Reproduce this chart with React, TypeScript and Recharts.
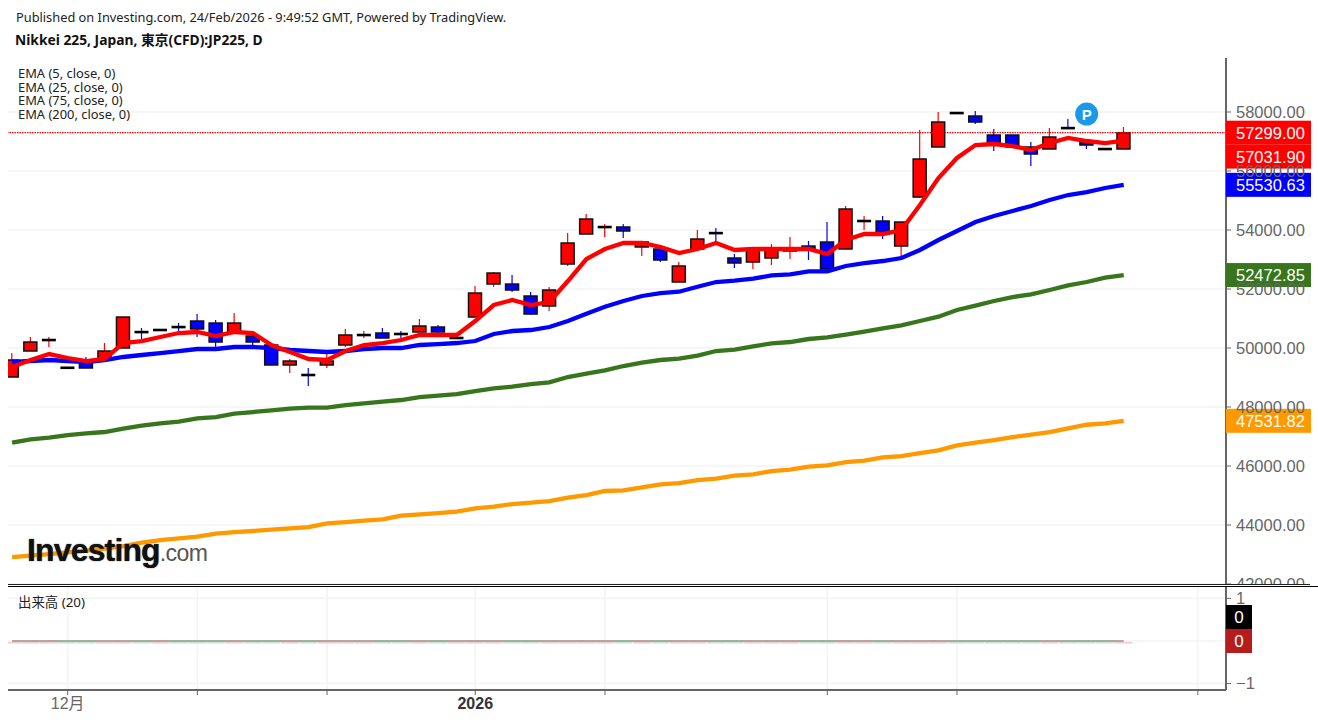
import {
  Bar,
  CartesianGrid,
  ComposedChart,
  Line,
  ReferenceDot,
  ReferenceLine,
  XAxis,
  YAxis,
} from 'recharts'

const opens = [
  49017, 49898, 50260, 49340, 49525, 49593, 50000, 50550, 50600, 50720, 50915, 50847, 50508, 50407, 50102, 49424,
  49095, 49424, 50102, 50430, 50508, 50485, 50542, 50712, 50330, 51050, 52169, 52169, 51763, 51424, 52847, 53864,
  54090, 54102, 53424, 53356, 52237, 53356, 53905, 53051, 52915, 53051, 53288, 53457, 53593, 53356, 54295, 54305,
  53457, 55118, 56814, 57975, 57864, 57220, 57220, 56814, 56746, 57465, 57017, 56755, 56746,
]
const highs = [
  49830, 50373, 50373, 49350, 49695, 50169, 51050, 50678, 50620, 50847, 51152, 50949, 51186, 50508, 50102, 49627,
  49322, 49796, 50644, 50576, 50678, 50576, 50983, 50780, 50508, 52102, 52576, 52475, 51898, 52068, 53898, 54542,
  54203, 54203, 53593, 53457, 52915, 54000, 54068, 53186, 53356, 53525, 53763, 53627, 54271, 54813, 54474, 54474,
  54271, 57390, 58000, 57975, 58034, 57424, 57220, 56983, 57458, 57763, 57017, 56755, 57492,
]
const lows = [
  49017, 49898, 50034, 49320, 49322, 49593, 50000, 50305, 50600, 50508, 50373, 50000, 50508, 50102, 49424, 49152,
  48711, 49322, 50034, 50339, 50339, 50339, 50542, 50441, 50305, 51050, 52068, 51898, 51118, 51254, 52780, 53864,
  53763, 53729, 53118, 52915, 52237, 53356, 53627, 52712, 52678, 52813, 53017, 52983, 52678, 53356, 54000, 53695,
  53051, 55085, 56814, 57955, 57593, 56678, 56814, 56169, 56746, 57424, 56746, 56735, 56746,
]
const closes = [
  49593, 50203, 50280, 49330, 49322, 49898, 51050, 50530, 50620, 50700, 50644, 50203, 50847, 50203, 49424, 49559,
  49075, 49559, 50441, 50450, 50339, 50465, 50746, 50542, 50350, 51864, 52542, 51966, 51152, 51966, 53559, 54373,
  54110, 53966, 53593, 52983, 52780, 53695, 53890, 52881, 53356, 53390, 53390, 53356, 52678, 54712, 54315, 53864,
  54271, 56407, 57661, 57955, 57661, 56949, 56814, 56576, 57153, 57450, 56881, 56735, 57299,
]
const ema5 = [
  49356, 49593, 49796, 49661, 49559, 49627, 50169, 50237, 50373, 50508, 50542, 50407, 50542, 50508, 50102, 49864,
  49627, 49593, 49898, 50102, 50169, 50271, 50441, 50441, 50441, 50915, 51457, 51627, 51457, 51559, 52271, 53017,
  53356, 53559, 53559, 53424, 53220, 53356, 53559, 53322, 53356, 53356, 53356, 53356, 53186, 53661, 53864, 53864,
  54000, 54847, 55763, 56441, 56881, 56915, 56847, 56712, 56949, 57119, 57017, 56949, 57032,
]
const ema25 = [
  49525, 49559, 49593, 49559, 49525, 49593, 49695, 49763, 49830, 49898, 49966, 49966, 50034, 50034, 50000, 49932,
  49898, 49864, 49898, 49966, 50000, 50000, 50102, 50135, 50169, 50237, 50475, 50576, 50610, 50712, 50915, 51162,
  51400, 51593, 51763, 51864, 51908, 52078, 52237, 52281, 52349, 52464, 52498, 52600, 52600, 52780, 52881, 52949,
  53051, 53322, 53661, 53966, 54271, 54474, 54644, 54813, 55017, 55186, 55288, 55424, 55531,
]
const ema75 = [
  46789, 46905, 46959, 47050, 47108, 47152, 47264, 47366, 47447, 47501, 47616, 47660, 47772, 47830, 47888, 47942,
  47976, 47976, 48067, 48125, 48179, 48237, 48338, 48383, 48440, 48542, 48633, 48688, 48779, 48837, 49016, 49128,
  49244, 49389, 49501, 49593, 49637, 49739, 49898, 49942, 50057, 50159, 50203, 50305, 50362, 50450, 50552, 50667,
  50769, 50915, 51061, 51288, 51434, 51593, 51728, 51820, 51966, 52125, 52237, 52383, 52473,
]
const ema200 = [
  42914, 42959, 43016, 43074, 43128, 43196, 43287, 43399, 43491, 43548, 43603, 43704, 43762, 43796, 43840, 43887,
  43931, 44057, 44101, 44145, 44193, 44315, 44362, 44406, 44450, 44565, 44620, 44711, 44755, 44813, 44925, 45016,
  45152, 45176, 45277, 45379, 45423, 45525, 45569, 45671, 45718, 45830, 45874, 45976, 46023, 46135, 46179, 46294,
  46338, 46440, 46532, 46701, 46789, 46881, 46982, 47060, 47152, 47277, 47399, 47447, 47532,
]
const volumes = [
  0, 0, 0, 0, 0, 0, 0, 0, 0, 0, 0, 0, 0, 0, 0, 0, 0, 0, 0, 0, 0, 0, 0, 0, 0, 0, 0, 0, 0, 0, 0, 0, 0, 0, 0, 0, 0, 0,
  0, 0, 0, 0, 0, 0, 0, 0, 0, 0, 0, 0, 0, 0, 0, 0, 0, 0, 0, 0, 0, 0, 0,
]
const priceTicks = [42000, 44000, 46000, 48000, 50000, 52000, 54000, 56000, 58000]
const volumeTicks = [-1, 0, 1]
const timeTicks = [3, 10, 17, 25, 32, 44, 51, 64]
const timeLabels = ['12月', '', '', '2026', '', '', '', '']
const emaNames = ['EMA (5, close, 0)', 'EMA (25, close, 0)', 'EMA (75, close, 0)', 'EMA (200, close, 0)']

const candles = opens.map((open, i) => ({
  idx: i,
  open,
  close: closes[i],
  range: [lows[i], highs[i]],
  ema5: ema5[i],
  ema25: ema25[i],
  ema75: ema75[i],
  ema200: ema200[i],
  volume: volumes[i],
  volumeMa: volumes[i],
}))

const X_DOMAIN: [number, number] = [-0.22, 65.52]
const GRID = '#f3f3f3'
const AXIS = '#666666'
const SANS = '"Liberation Sans", "Noto Sans CJK JP", sans-serif'
const LABEL_FONT = '"Noto Sans", "Noto Sans CJK JP", sans-serif'

function CandleShape(props: any) {
  const { x, y, width, height, payload } = props
  const [low, high] = payload.range
  const pxPerUnit = height / (high - low)
  const top = y + (high - Math.max(payload.open, payload.close)) * pxPerUnit
  const bottom = y + (high - Math.min(payload.open, payload.close)) * pxPerUnit
  const up = payload.close >= payload.open
  const doji = Math.abs(payload.open - payload.close) < 30
  const color = up ? '#ff0000' : '#0000ff'
  const cx = x + width / 2
  return (
    <g>
      <line x1={cx} x2={cx} y1={y} y2={y + height} stroke={color} strokeWidth={1.2} />
      {doji ? (
        <rect x={x} y={top - 1} width={width} height={2.6} fill="#000000" />
      ) : (
        <rect
          x={x + 0.5}
          y={top}
          width={width - 1}
          height={bottom - top}
          fill={color}
          stroke="#111111"
          strokeWidth={1.5}
        />
      )}
    </g>
  )
}

// volume is flat at zero, so the bar is a faint strip just under the zero line
function VolumeShape(props: any) {
  const { x, y, width, payload } = props
  return <rect x={x} y={y + 1} width={width} height={1.5} fill={payload.close >= payload.open ? '#f8c9c9' : '#c5e6c5'} />
}

// value tag sitting on the price axis, dy moves it off a neighbouring tag
const priceTag = (value: number, color: string, dy = 0) => (props: any) => {
  const { cx, cy } = props
  return (
    <g>
      <rect x={cx} y={cy + dy - 12} width={85} height={24} fill={color} />
      <text x={cx + 10} y={cy + dy + 6} fill="#ffffff" fontSize={16.5} fontFamily={SANS}>
        {value.toFixed(2)}
      </text>
    </g>
  )
}

const volumeTag = (color: string, dy = 0) => (props: any) => {
  const { cx, cy } = props
  return (
    <g>
      <rect x={cx} y={cy + dy - 12} width={26} height={24} fill={color} />
      <text x={cx + 13} y={cy + dy + 6} fill="#ffffff" fontSize={17} textAnchor="middle" fontFamily={SANS}>
        0
      </text>
    </g>
  )
}

const publishedMark = (props: any) => (
  <g>
    <circle cx={props.cx} cy={props.cy} r={11.5} fill="#1b98e8" />
    <text x={props.cx} y={props.cy + 5.5} fill="#ffffff" fontSize={15} fontWeight={700} textAnchor="middle" fontFamily={SANS}>
      P
    </text>
  </g>
)

function TimeTick(props: any) {
  const { x, y, index } = props
  const label = timeLabels[index]
  const bold = label === '2026'
  return (
    <text
      x={x}
      y={y + 12}
      textAnchor="middle"
      fontSize={16}
      fontWeight={bold ? 700 : 400}
      fill={bold ? '#333333' : AXIS}
      fontFamily={SANS}
    >
      {label}
    </text>
  )
}

const formatPrice = (v: number) => v.toFixed(2)
// the zero tick is covered by the value tags
const formatVolume = (v: number) => (v === 0 ? '' : v < 0 ? `−${-v}` : `${v}`)

export default function App() {
  return (
    <div style={{ position: 'absolute', left: 0, top: 0, width: 1318, height: 723, background: '#ffffff', overflow: 'hidden' }}>
      <div style={{ position: 'absolute', left: 0, top: 0 }}>
        <ComposedChart
          width={1318}
          height={590}
          data={candles}
          margin={{ top: 58, right: 0, bottom: 5, left: 8 }}
        >
          <CartesianGrid stroke={GRID} strokeWidth={1.5} syncWithTicks />
          <XAxis
            dataKey="idx"
            type="number"
            domain={X_DOMAIN}
            allowDataOverflow
            ticks={timeTicks}
            interval={0}
            height={0}
            tick={false}
            axisLine={false}
            tickLine={false}
          />
          <YAxis
            orientation="right"
            width={92}
            domain={[41966, 59831]}
            allowDataOverflow
            ticks={priceTicks}
            interval={0}
            tickFormatter={formatPrice}
            tick={{ fill: AXIS, fontSize: 16.5, fontFamily: SANS }}
            tickSize={5}
            tickMargin={5}
            axisLine={{ stroke: AXIS, strokeWidth: 2 }}
            tickLine={{ stroke: AXIS }}
          />
          <ReferenceLine y={closes[closes.length - 1]} stroke="#ff0000" strokeWidth={1.2} strokeDasharray="1.5 1" />
          <Line dataKey="ema200" stroke="#ff9900" strokeWidth={4.3} dot={false} isAnimationActive={false} />
          <Line dataKey="ema75" stroke="#38761d" strokeWidth={4.3} dot={false} isAnimationActive={false} />
          <Line dataKey="ema25" stroke="#0000ff" strokeWidth={4.3} dot={false} isAnimationActive={false} />
          <Line dataKey="ema5" stroke="#ff0000" strokeWidth={4.3} dot={false} isAnimationActive={false} />
          <Bar dataKey="range" barSize={14} shape={CandleShape} isAnimationActive={false} />
          <ReferenceDot x={58} y={57932} ifOverflow="visible" shape={publishedMark} />
          <ReferenceDot x={X_DOMAIN[1]} y={closes[60]} ifOverflow="visible" shape={priceTag(closes[60], '#ff0000')} />
          <ReferenceDot x={X_DOMAIN[1]} y={ema5[60]} ifOverflow="visible" shape={priceTag(57031.9, '#ff0000', 16)} />
          <ReferenceDot x={X_DOMAIN[1]} y={ema25[60]} ifOverflow="visible" shape={priceTag(55530.63, '#0000ff')} />
          <ReferenceDot x={X_DOMAIN[1]} y={ema75[60]} ifOverflow="visible" shape={priceTag(52472.85, '#38761d')} />
          <ReferenceDot x={X_DOMAIN[1]} y={ema200[60]} ifOverflow="visible" shape={priceTag(47531.82, '#ff9900')} />
        </ComposedChart>
      </div>

      <div style={{ position: 'absolute', left: 0, top: 585, background: '#ffffff' }}>
        <ComposedChart
          width={1318}
          height={138}
          data={candles}
          margin={{ top: 1, right: 0, bottom: 0, left: 8 }}
        >
          <CartesianGrid stroke={GRID} strokeWidth={1.5} syncWithTicks />
          <XAxis
            dataKey="idx"
            type="number"
            domain={X_DOMAIN}
            allowDataOverflow
            ticks={timeTicks}
            interval={0}
            height={33}
            tick={<TimeTick />}
            tickSize={5}
            axisLine={{ stroke: AXIS, strokeWidth: 2 }}
            tickLine={{ stroke: AXIS }}
          />
          <YAxis
            orientation="right"
            width={92}
            domain={[-1.15, 1.29]}
            allowDataOverflow
            ticks={volumeTicks}
            interval={0}
            tickFormatter={formatVolume}
            tick={{ fill: AXIS, fontSize: 16.5, fontFamily: SANS }}
            tickSize={5}
            tickMargin={5}
            axisLine={{ stroke: AXIS, strokeWidth: 2 }}
            tickLine={{ stroke: AXIS }}
          />
          <Bar dataKey="volume" barSize={18} shape={VolumeShape} isAnimationActive={false} />
          <Line dataKey="volumeMa" stroke="#aaaaaa" strokeWidth={2} dot={false} isAnimationActive={false} />
          <ReferenceDot x={X_DOMAIN[1]} y={0} ifOverflow="visible" shape={volumeTag('#000000', -24)} />
          <ReferenceDot x={X_DOMAIN[1]} y={0} ifOverflow="visible" shape={volumeTag('#b71c1c')} />
        </ComposedChart>
      </div>

      <div style={{ position: 'absolute', left: 8, top: 584, width: 1302, height: 1, background: '#222222' }} />
      <div style={{ position: 'absolute', left: 8, top: 585.5, width: 1310, height: 1.5, background: '#000000' }} />

      <div style={{ position: 'absolute', left: 16, top: 8, fontFamily: LABEL_FONT, fontSize: 12.8, color: '#222222', whiteSpace: 'nowrap' }}>
        Published on Investing.com, 24/Feb/2026 - 9:49:52 GMT, Powered by TradingView.
      </div>
      <div style={{ position: 'absolute', left: 15, top: 29, fontFamily: LABEL_FONT, fontSize: 13.8, fontWeight: 700, color: '#111111', whiteSpace: 'nowrap' }}>
        Nikkei 225, Japan, 東京(CFD):JP225, D
      </div>
      {emaNames.map((name, i) => (
        <div
          key={name}
          style={{ position: 'absolute', left: 18, top: 65 + i * 13.7, fontFamily: LABEL_FONT, fontSize: 12.9, lineHeight: '16px', color: '#222222', whiteSpace: 'nowrap' }}
        >
          {name}
        </div>
      ))}
      <div style={{ position: 'absolute', left: 18, top: 594, fontFamily: LABEL_FONT, fontSize: 13.4, lineHeight: '16px', color: '#222222', whiteSpace: 'nowrap' }}>
        出来高 (20)
      </div>

      <div style={{ position: 'absolute', left: 27, top: 531, fontFamily: SANS, whiteSpace: 'nowrap', lineHeight: '38px' }}>
        <span style={{ fontSize: 32, fontWeight: 700, letterSpacing: -0.85, color: '#111111', textShadow: '0 0 1.2px #333333' }}>Investing</span>
        <span style={{ fontSize: 23, letterSpacing: -0.6, color: '#555555' }}>.com</span>
      </div>
    </div>
  )
}
